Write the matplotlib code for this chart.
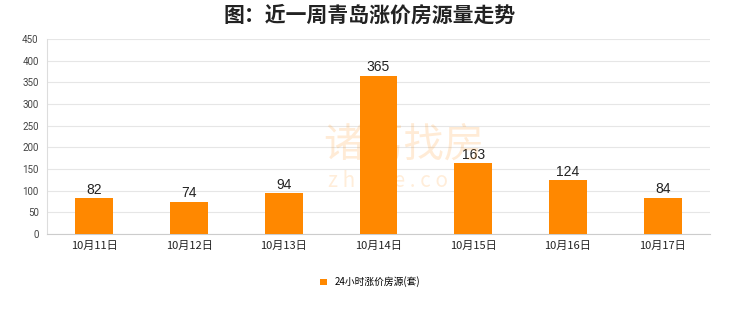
import matplotlib.pyplot as plt

plt.rcParams['font.family'] = ['Noto Sans CJK SC', 'DejaVu Sans']

dates = ['10月11日', '10月12日', '10月13日', '10月14日', '10月15日', '10月16日', '10月17日']
counts = [82, 74, 94, 365, 163, 124, 84]
yticks = [0, 50, 100, 150, 200, 250, 300, 350, 400, 450]

fig = plt.figure(figsize=(7.4, 3.12), dpi=100)
ax = fig.add_axes([47 / 740, 1 - 234 / 312, (710 - 47) / 740, (234 - 39) / 312])

x = range(len(dates))
bars = ax.bar(x, counts, width=0.4, color='#FF8800', zorder=3)
for xi, v in zip(x, counts):
    ax.text(xi, v + 4, str(v), ha='center', va='bottom', fontsize=10,
            family='Liberation Sans', color='#222222', zorder=4)

ax.set_xlim(-0.5, len(dates) - 0.5)
ax.set_ylim(0, 450)
ax.set_yticks(yticks)
ax.set_yticklabels([str(t) for t in yticks], family='Roboto')
ax.set_xticks(list(x))
ax.set_xticklabels(dates, fontsize=8, color='#222222')
ax.tick_params(axis='y', labelsize=7, colors='#444444', length=0, pad=6)
ax.tick_params(axis='x', length=0, pad=5)
ax.grid(axis='y', color='#e6e6e6', linewidth=0.8, zorder=0)
for s in ['top', 'right']:
    ax.spines[s].set_visible(False)
ax.spines['left'].set_color('#dddddd')
ax.spines['bottom'].set_color('#cccccc')

# watermark
fig.text(0.545, 0.535, '诸葛找房', fontsize=29, color='#FF8800', alpha=0.16,
         ha='center', va='center')
fig.text(0.54, 0.42, 'z h u g e . c o m', fontsize=15, color='#FF8800', alpha=0.15,
         ha='center', va='center')

fig.suptitle('图：近一周青岛涨价房源量走势', y=0.985, fontsize=15, fontweight='bold', color='#222222')

fig.legend(handles=[bars], labels=['24小时涨价房源(套)'], loc='center', bbox_to_anchor=(0.5, 1 - 282 / 312),
           frameon=False, fontsize=7, handlelength=0.7, handleheight=0.7)

fig.savefig('out.png', dpi=100)
